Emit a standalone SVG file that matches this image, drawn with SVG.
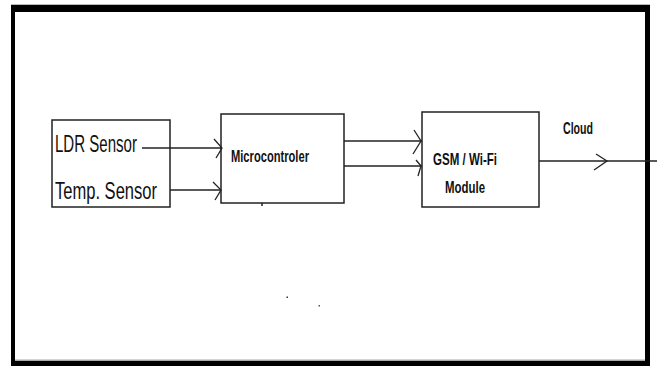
<svg xmlns="http://www.w3.org/2000/svg" width="657" height="366" viewBox="0 0 657 366">
<style>
.box{fill:#fff;stroke:#222;stroke-width:1.5}
.ln{fill:none;stroke:#222;stroke-width:1.5}
.ah{fill:none;stroke:#222;stroke-width:1.3}
.t{font-family:"Liberation Sans",Arial,sans-serif;fill:#111}
.b{font-weight:bold}
</style>
<rect x="0" y="0" width="657" height="366" fill="#fff"/>
<g id="frame">
<rect x="11" y="4" width="639" height="1" fill="#bbb"/>
<path d="M11 5H650V366H11Z M15 12V361H645V12Z" fill="#000" fill-rule="evenodd"/>
<rect x="15" y="359.5" width="630" height="1.5" fill="#aaa"/>
</g>
<g id="sensors">
<rect class="box" x="52" y="120" width="118" height="87"/>
<text class="t" x="55" y="152" font-size="24" textLength="82" lengthAdjust="spacingAndGlyphs">LDR Sensor</text>
<text class="t" x="55" y="199" font-size="23.5" textLength="102" lengthAdjust="spacingAndGlyphs">Temp. Sensor</text>
</g>
<g id="microcontroller">
<rect class="box" x="221" y="114" width="123" height="89"/>
<text class="t b" x="231" y="162" font-size="17" textLength="78" lengthAdjust="spacingAndGlyphs">Microcontroler</text>
<line class="ln" x1="262" y1="203" x2="262" y2="206"/>
</g>
<g id="gsm">
<rect class="box" x="422" y="112" width="117" height="95"/>
<text class="t b" x="433" y="165" font-size="17" textLength="64" lengthAdjust="spacingAndGlyphs">GSM / Wi-Fi</text>
<text class="t b" x="445" y="193" font-size="17" textLength="40" lengthAdjust="spacingAndGlyphs">Module</text>
</g>
<g id="cloud-label">
<text class="t b" x="563" y="134" font-size="17" textLength="30" lengthAdjust="spacingAndGlyphs">Cloud</text>
</g>
<g id="connectors">
<line class="ln" x1="142" y1="148" x2="222" y2="148"/>
<path class="ah" d="M214 139L222 148L216 158"/>
<line class="ln" x1="170" y1="190" x2="221" y2="190"/>
<path class="ah" d="M213 182L221 190L215 200"/>
<line class="ln" x1="344" y1="141" x2="422" y2="141"/>
<path class="ah" d="M414 130L421 141L413 154"/>
<line class="ln" x1="344" y1="166" x2="422" y2="166"/>
<path class="ah" d="M416 160L421 166L418 176"/>
<line class="ln" x1="539" y1="161" x2="657" y2="161"/>
<path class="ah" d="M596 154L607 161L594 170"/>
</g>
<rect x="286.5" y="296.5" width="1.5" height="1.5" fill="#333"/>
<rect x="318.5" y="305" width="1.5" height="1.5" fill="#555"/>
</svg>
